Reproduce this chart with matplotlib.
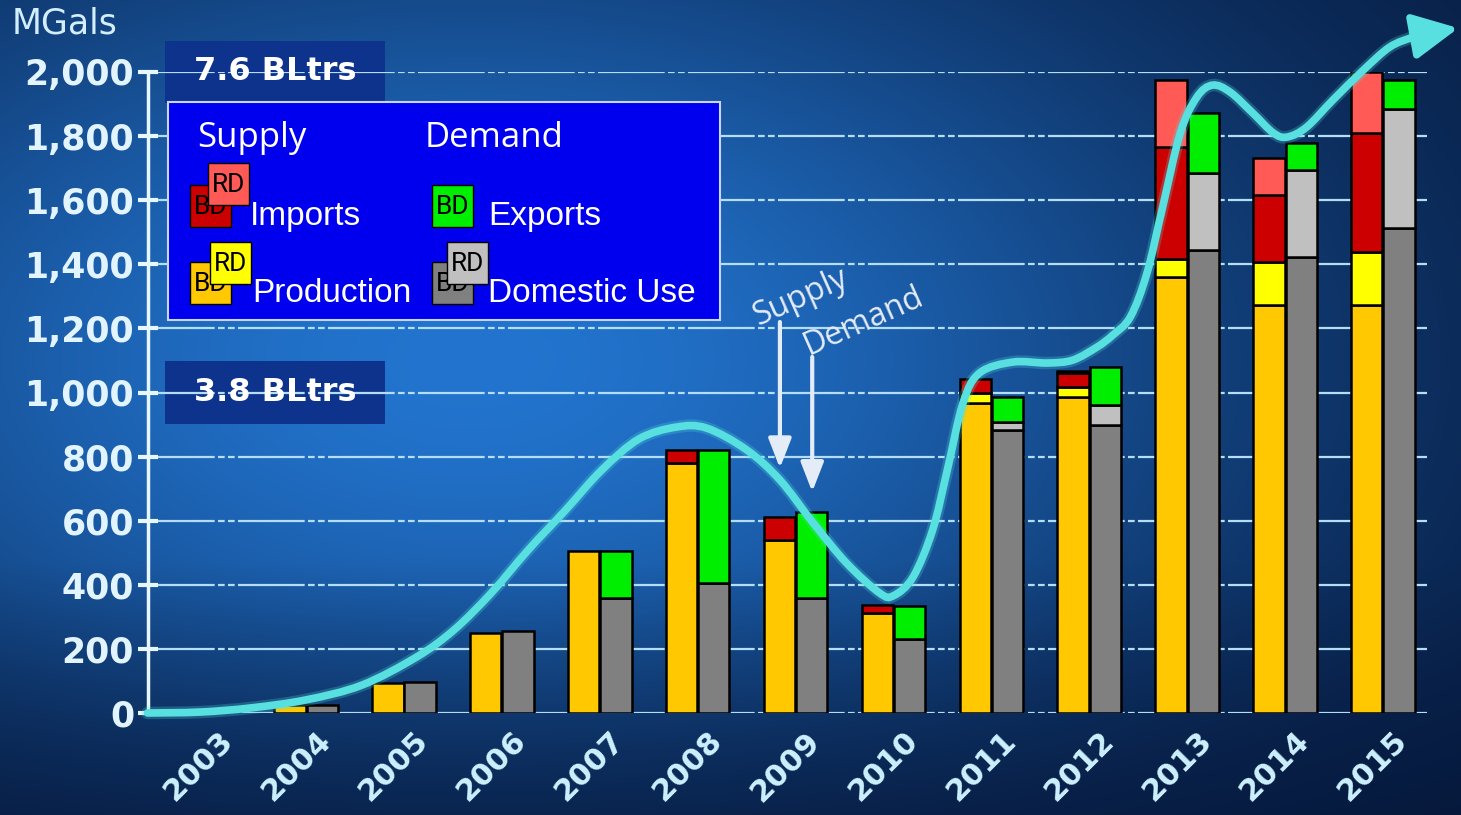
import numpy as np
import matplotlib.pyplot as plt
from matplotlib.patches import Rectangle, PathPatch
from matplotlib.path import Path

# Biodiesel (BD) and renewable diesel (RD) balance, million gallons
years = np.arange(2003, 2016)
year_labels = [str(y) for y in years]

prod_bd = [5, 25, 95, 250, 505, 780, 540, 312, 967, 986, 1360, 1273, 1273]
prod_rd = [0, 0, 0, 0, 0, 0, 0, 0, 31, 31, 58, 134, 166]
imp_bd = [0, 0, 0, 0, 0, 40, 70, 25, 45, 44, 347, 209, 371]
imp_rd = [0, 0, 0, 0, 0, 0, 0, 0, 0, 6, 209, 115, 190]

dom_bd = [5, 25, 97, 255, 358, 405, 359, 231, 883, 899, 1445, 1422, 1513]
dom_rd = [0, 0, 0, 0, 0, 0, 0, 0, 25, 62, 240, 272, 372]
exports = [0, 0, 0, 0, 147, 415, 268, 102, 78, 119, 187, 84, 90]

# hand-drawn trend swoosh (year, MGals)
curve_x = [2002.38, 2002.92, 2003.44, 2004.00, 2004.57, 2005.13, 2005.51, 2005.89,
           2006.27, 2006.65, 2007.02, 2007.40, 2007.78, 2008.09, 2008.50,
           2008.84, 2009.18, 2009.52, 2009.86, 2010.00, 2010.20, 2010.40, 2010.55,
           2010.71, 2010.88, 2011.22, 2011.57, 2011.83, 2012.08, 2012.24, 2012.42,
           2012.59, 2012.75, 2012.93, 2013.10, 2013.26, 2013.44, 2013.67, 2013.88,
           2014.02, 2014.22, 2014.49, 2014.80, 2015.07, 2015.31, 2015.43]
curve_y = [0, 3, 16, 41, 87, 175, 259, 374, 509, 633, 758, 855, 892, 889, 821,
           727, 593, 468, 374, 366, 424, 571, 758, 967, 1061, 1095, 1092, 1101, 1142,
           1179, 1236, 1373, 1579, 1810, 1922, 1959, 1937, 1872, 1810, 1797, 1828,
           1913, 2006, 2078, 2109, 2118]
arrow_tip = (2015.77, 2137)

W, H = 1461, 815
fig = plt.figure(figsize=(W / 100, H / 100), dpi=100)


def fpx(x, y):
    return x / W, 1 - y / H


def smooth_path(xs, ys):
    # Catmull-Rom through the points, written as cubic Bezier segments
    p = np.column_stack([xs, ys]).astype(float)
    p = np.vstack([p[0], p, p[-1]])
    verts, codes = [p[1]], [Path.MOVETO]
    for i in range(1, len(p) - 2):
        c1 = p[i] + (p[i + 1] - p[i - 1]) / 6
        c2 = p[i + 1] - (p[i + 2] - p[i]) / 6
        verts += [c1, c2, p[i + 1]]
        codes += [Path.CURVE4] * 3
    return Path(verts, codes)


# slide background
bg = fig.add_axes([0, 0, 1, 1], zorder=-10)
yy, xx = np.mgrid[0:H, 0:W]
glow = np.exp(-((xx - 470) / 820) ** 2 - ((yy - 360) / 470) ** 2)
glow *= np.clip(1 - (yy - 560) / 420, 0.35, 1)
dark = np.array([5, 22, 56]) / 255
bright = np.array([34, 116, 206]) / 255
bg.imshow(dark + (bright - dark) * glow[..., None], aspect='auto', extent=[0, 1, 0, 1])
bg.axis('off')

ax = fig.add_axes([148 / W, 1 - 713 / H, (1427 - 148) / W, (713 - 72) / H])
ax.set_facecolor('none')
ax.set_xlim(2002.385, 2015.45)
ax.set_ylim(0, 2000)

ax.set_axisbelow(True)
ax.yaxis.grid(True, color='#b4def6', lw=1.6, linestyle=(0, (30, 1.5, 3, 1.5, 3, 1.5)))
ax.set_yticks(range(0, 2001, 200))
ax.set_yticklabels([f'{v:,}' for v in range(0, 2001, 200)])
ax.tick_params(axis='y', direction='inout', length=14, width=3, color='#e6f7ff',
               labelcolor='#e2f4ff', labelsize=25, pad=3)
for lab in ax.get_yticklabels():
    lab.set_fontweight('bold')
ax.set_xticks([])
for s in ['top', 'right', 'bottom']:
    ax.spines[s].set_visible(False)
ax.spines['left'].set_color('#e6f7ff')
ax.spines['left'].set_linewidth(2.5)

for yr, lab in zip(years, year_labels):
    ax.annotate(lab, xy=(yr + 0.10, 0), xytext=(0, -9.5), textcoords='offset points',
                ha='right', va='top', rotation=45, rotation_mode='anchor',
                fontsize=22, fontweight='bold', color='#cdf1ff', annotation_clip=False)

w = 0.32


def stack(xpos, layers, colors):
    bottom = np.zeros(len(years))
    for vals, c in zip(layers, colors):
        vals = np.asarray(vals, float)
        keep = vals > 0
        ax.bar(xpos[keep], vals[keep], w, bottom=bottom[keep], color=c,
               edgecolor='black', linewidth=1.8, zorder=3)
        bottom += vals


stack(years - 0.165, [prod_bd, prod_rd, imp_bd, imp_rd],
      ['#ffc800', '#ffff00', '#cc0000', '#ff5a55'])
stack(years + 0.165, [dom_bd, dom_rd, exports],
      ['#808080', '#c0c0c0', '#00ee00'])

# trend swoosh with arrow head
swoosh = smooth_path(curve_x, curve_y)
ax.add_patch(PathPatch(swoosh, facecolor='none', edgecolor='#52dcdc', lw=9, alpha=0.25,
                       zorder=5, clip_on=False, capstyle='round'))
ax.add_patch(PathPatch(swoosh, facecolor='none', edgecolor='#58e0e0', lw=5.5,
                       zorder=6, clip_on=False, capstyle='round'))
ax.annotate('', xy=arrow_tip, xytext=(curve_x[-1], curve_y[-1]),
            arrowprops=dict(arrowstyle='-|>,head_length=1.1,head_width=0.55',
                            mutation_scale=25, color='#58e0e0', lw=5,
                            shrinkA=0, shrinkB=0),
            annotation_clip=False, zorder=6)

# volume call-outs
for yc, txt in [(2000, '7.6 BLtrs'), (1000, '3.8 BLtrs')]:
    ax.add_patch(Rectangle((2002.56, yc - 98), 2.25, 196, facecolor='#0d338c',
                           edgecolor='none', zorder=0.3, clip_on=False))
    ax.text(2003.68, yc, txt, ha='center', va='center', fontsize=23, fontweight='bold',
            color='white', zorder=4)

# supply / demand pointers at 2009
ax.text(2009.05, 1295, 'Supply', rotation=24, ha='center', va='center', fontsize=23,
        family='Open Sans', color='#e4ecf8', zorder=4)
ax.text(2009.70, 1222, 'Demand', rotation=24, ha='center', va='center', fontsize=23,
        family='Open Sans', color='#e4ecf8', zorder=4)
for xa, y0, y1 in [(2008.84, 1220, 764), (2009.17, 1111, 690)]:
    ax.annotate('', xy=(xa, y1), xytext=(xa, y0),
                arrowprops=dict(arrowstyle='-|>,head_length=0.9,head_width=0.35',
                                mutation_scale=20, color='#e4ecf8', lw=3,
                                shrinkA=0, shrinkB=0), zorder=4)

fig.text(*fpx(12, 23), 'MGals', ha='left', va='center', fontsize=25, color='#d2eeff')

# legend panel
fig.add_artist(Rectangle(fpx(168, 320), 552 / W, 218 / H, transform=fig.transFigure,
                         facecolor='#0000ee', edgecolor='#c8d6ff', lw=1.5, zorder=2))
fig.text(*fpx(197, 138), 'Supply', ha='left', va='center', fontsize=25,
         family='Open Sans', color='white', zorder=3)
fig.text(*fpx(425, 138), 'Demand', ha='left', va='center', fontsize=25,
         family='Open Sans', color='white', zorder=3)

swatches = [
    (190, 185, '#cc0000', 'BD'), (208, 163, '#ff5a55', 'RD'),
    (190, 262, '#ffc800', 'BD'), (210, 242, '#ffff00', 'RD'),
    (432, 185, '#00ee00', 'BD'),
    (432, 262, '#808080', 'BD'), (447, 242, '#c0c0c0', 'RD'),
]
for i, (x0, y0, c, tag) in enumerate(swatches):
    z = 3 + i * 0.1
    fig.add_artist(Rectangle(fpx(x0, y0 + 42), 41 / W, 42 / H, transform=fig.transFigure,
                             facecolor=c, edgecolor='black', lw=1, zorder=z))
    fig.text(*fpx(x0 + 20.5, y0 + 22), tag, ha='center', va='center', fontsize=19,
             family='Roboto', color='black', zorder=z + 0.05)

for x0, y0, txt in [(250, 216, 'Imports'), (252, 294, 'Production'),
                    (488, 216, 'Exports'), (488, 294, 'Domestic Use')]:
    fig.text(*fpx(x0, y0), txt, ha='left', va='center', fontsize=24,
             family='Liberation Sans', color='white', zorder=4)

fig.savefig('out.png', dpi=100)
